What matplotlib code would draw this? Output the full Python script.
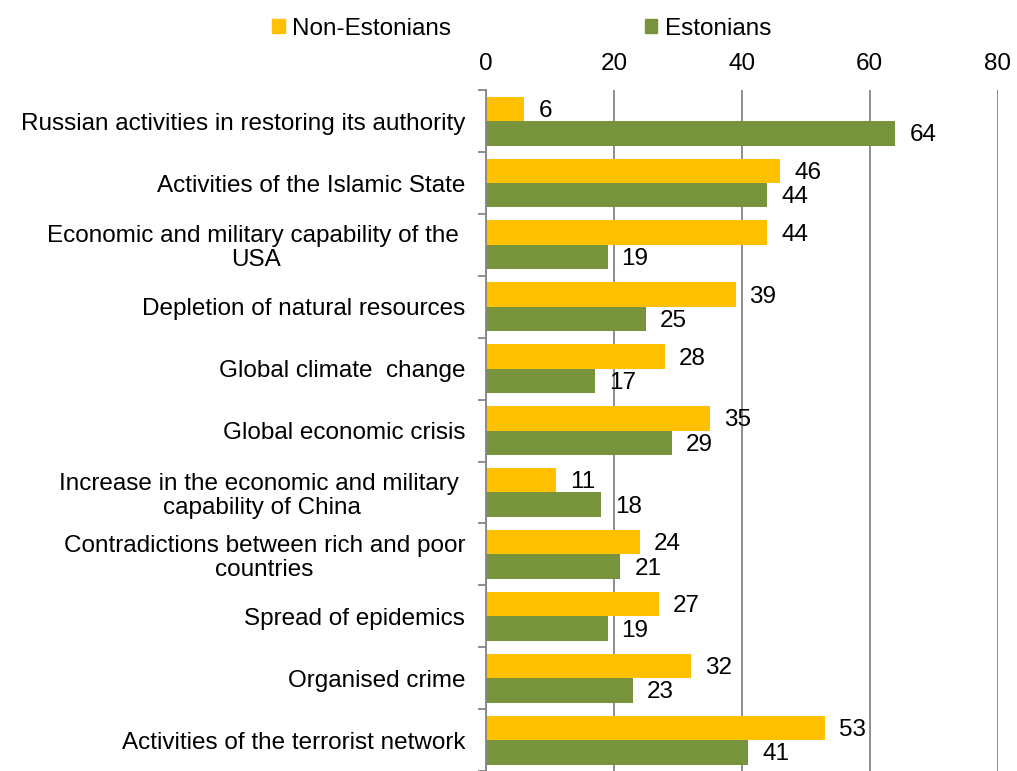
import numpy as np
import matplotlib.pyplot as plt
from matplotlib.patches import Patch

plt.rcParams['font.family'] = ['Liberation Sans', 'DejaVu Sans']

categories = [
    "Russian activities in restoring its authority",
    "Activities of the Islamic State",
    "Economic and military capability of the \nUSA",
    "Depletion of natural resources",
    "Global climate  change",
    "Global economic crisis",
    "Increase in the economic and military \ncapability of China",
    "Contradictions between rich and poor\ncountries",
    "Spread of epidemics",
    "Organised crime",
    "Activities of the terrorist network",
]
non_estonians = [6, 46, 44, 39, 28, 35, 11, 24, 27, 32, 53]
estonians = [64, 44, 19, 25, 17, 29, 18, 21, 19, 23, 41]
x_ticks = [0, 20, 40, 60, 80]

yellow = "#FFC000"
green = "#77933C"
grey = "#868686"
fs = 17.5

fig = plt.figure(figsize=(10.17, 7.71), dpi=100)
ax = fig.add_axes([0.478, 0.0, 0.503, 0.883])

y = np.arange(len(categories))
h = 0.395
ax.barh(y - h / 2, non_estonians, height=h, color=yellow)
ax.barh(y + h / 2, estonians, height=h, color=green)

# data labels
for i in range(len(categories)):
    ax.annotate(str(non_estonians[i]), (non_estonians[i], y[i] - h / 2),
                xytext=(10, -1.5), textcoords='offset points',
                va='center', ha='left', fontsize=fs)
    ax.annotate(str(estonians[i]), (estonians[i], y[i] + h / 2),
                xytext=(10, -1.5), textcoords='offset points',
                va='center', ha='left', fontsize=fs)

ax.set_xlim(0, 80)
ax.set_ylim(len(categories) - 0.5, -0.5)
ax.set_xticks(x_ticks)
ax.xaxis.tick_top()
ax.tick_params(axis='x', length=0, pad=11, labelsize=fs)
ax.grid(axis='x', color=grey, linewidth=1.3)
ax.set_axisbelow(True)

ax.set_yticks(y)
ax.set_yticklabels(categories, fontsize=fs, linespacing=1.1)
for lab in ax.get_yticklabels():
    lab.set_multialignment('center')
ax.set_yticks(np.arange(len(categories) + 1) - 0.5, minor=True)
ax.tick_params(axis='y', which='major', length=0, pad=15)
ax.tick_params(axis='y', which='minor', length=6, color=grey, width=1.3)

for s in ['top', 'right', 'bottom']:
    ax.spines[s].set_visible(False)
ax.spines['left'].set_color(grey)
ax.spines['left'].set_linewidth(1.3)

handles = [Patch(color=yellow, label='Non-Estonians'),
           Patch(color=green, label='Estonians')]
fig.legend(handles=handles, loc='center', bbox_to_anchor=(0.513, 0.963),
           ncol=2, frameon=False, fontsize=fs, handlelength=0.5,
           handleheight=0.5, handletextpad=0.3, columnspacing=8.0)

fig.savefig('out.png', dpi=100)
